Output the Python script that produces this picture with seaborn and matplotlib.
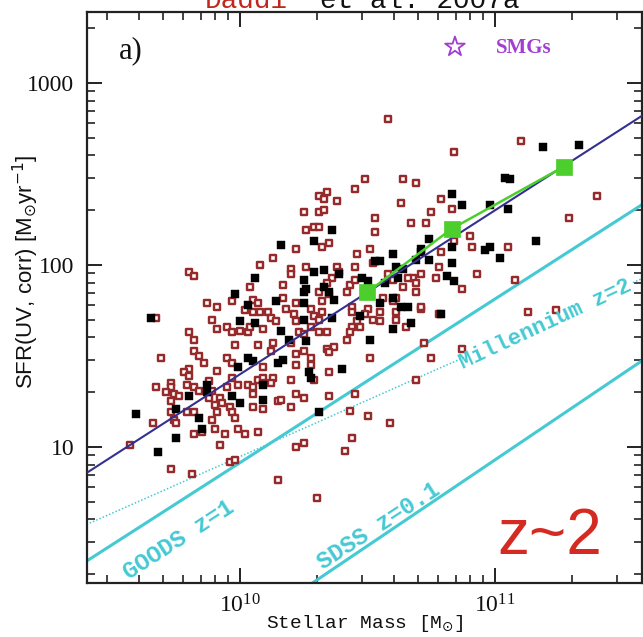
import numpy as np
import pandas as pd
import matplotlib
matplotlib.use("Agg")
import matplotlib.pyplot as plt
import seaborn as sns
from matplotlib.ticker import LogLocator, FuncFormatter, NullFormatter

# ---------------- data (log10 units) ----------------
red_logm = [10.58, 11.10, 10.84, 11.40, 11.29, 10.79, 10.83, 10.90, 10.91, 11.05, 10.79, 10.78, 10.84,
            10.45, 10.49, 10.64, 10.69, 10.63, 10.53, 10.53, 10.67, 10.73, 10.75, 11.08, 10.93, 10.87,
            10.77, 10.71, 11.13, 11.24, 10.51, 10.46, 10.45, 10.56, 10.13, 10.08, 10.04, 9.80, 9.82,
            9.97, 10.05, 10.07, 10.02, 10.05, 10.08, 10.11, 9.87, 9.91, 9.67, 9.89, 9.91, 9.95, 9.97,
            10.00, 10.03, 10.04, 10.09, 9.80, 9.82, 9.98, 10.07, 10.13, 10.12, 9.82, 9.84, 9.86, 9.69,
            9.95, 9.97, 9.91, 9.80, 9.78, 9.80, 10.09, 9.97, 10.07, 10.09, 10.13, 9.67, 9.73, 9.73,
            9.88, 9.79, 9.82, 9.99, 10.03, 10.05, 10.09, 10.12, 9.71, 9.74, 9.76, 9.73, 9.84, 9.89,
            9.88, 9.95, 10.05, 9.92, 9.93, 9.90, 9.91, 9.96, 9.97, 10.05, 10.09, 10.15, 9.57, 9.79,
            9.82, 9.73, 9.74, 9.89, 9.98, 9.66, 9.75, 9.90, 9.99, 9.82, 9.85, 9.94, 10.02, 10.07,
            9.92, 9.96, 9.98, 9.73, 9.81, 10.15, 10.17, 10.22, 10.18, 10.31, 10.32, 10.42, 10.28,
            10.32, 10.29, 10.31, 10.21, 10.22, 10.12, 10.14, 10.44, 10.44, 10.50, 10.49, 10.52,
            10.46, 10.47, 10.55, 10.61, 10.61, 10.71, 10.65, 10.78, 10.23, 10.25, 10.28, 10.31,
            10.34, 10.44, 10.43, 10.42, 10.20, 10.25, 10.34, 10.37, 10.35, 10.22, 10.28, 10.28,
            10.22, 10.51, 10.72, 10.75, 10.35, 10.20, 10.29, 10.69, 10.22, 10.25, 10.35, 10.45,
            10.16, 10.20, 10.43, 10.50, 10.59, 10.44, 10.22, 10.25, 10.41, 10.30, 10.34, 10.31,
            10.33, 10.38, 10.25, 10.31, 10.33, 10.26, 10.29, 10.31, 10.22, 10.32, 10.35, 10.20,
            10.20, 10.26, 10.38, 10.39, 10.36, 10.17, 10.68, 10.71, 10.69, 10.69, 10.64, 10.35,
            10.43, 10.34, 10.45, 10.52, 10.58, 10.60, 10.66, 10.87, 10.61, 10.60, 10.55]
red_logsfr = [2.80, 2.68, 2.62, 2.38, 2.26, 2.36, 2.31, 2.16, 2.10, 2.10, 2.07, 1.99, 2.13,
              2.42, 2.47, 2.47, 2.45, 2.34, 2.26, 2.18, 2.23, 2.23, 2.29, 1.92, 1.95, 1.87,
              1.93, 1.76, 1.74, 1.75, 2.09, 2.06, 1.99, 1.82, 2.04, 2.00, 1.88, 1.96, 1.94,
              1.80, 1.81, 1.79, 1.75, 1.74, 1.74, 1.74, 1.79, 1.77, 1.71, 1.70, 1.65, 1.66, 1.63,
              1.64, 1.63, 1.66, 1.65, 1.63, 1.59, 1.56, 1.56, 1.57, 1.53, 1.53, 1.50, 1.46, 1.49,
              1.49, 1.46, 1.42, 1.43, 1.41, 1.39, 1.44, 1.38, 1.37, 1.38, 1.38, 1.33, 1.35, 1.33,
              1.36, 1.34, 1.33, 1.34, 1.34, 1.33, 1.35, 1.35, 1.30, 1.29, 1.28, 1.25, 1.31, 1.31,
              1.27, 1.33, 1.29, 1.27, 1.24, 1.23, 1.19, 1.22, 1.19, 1.22, 1.21, 1.25, 1.01, 1.19,
              1.19, 1.19, 1.15, 1.15, 1.16, 1.13, 1.13, 1.10, 1.10, 1.07, 1.08, 1.07, 1.07, 1.08,
              1.01, 0.92, 0.93, 0.88, 0.85, 0.82, 1.82, 1.79, 1.76, 1.85, 1.80, 1.85, 1.76,
              1.74, 1.72, 1.70, 1.73, 1.69, 1.71, 1.69, 1.77, 1.74, 1.76, 1.73, 1.70,
              1.69, 1.66, 1.69, 1.74, 1.70, 1.77, 1.66, 1.73, 1.63, 1.62, 1.66, 1.63,
              1.63, 1.66, 1.63, 1.59, 1.57, 1.53, 1.54, 1.55, 1.52, 1.51, 1.49, 1.45,
              1.45, 1.49, 1.57, 1.49, 1.41, 1.37, 1.37, 1.37, 1.29, 1.27, 1.28, 1.29,
              1.26, 1.22, 1.20, 1.17, 1.13, 1.05, 1.00, 1.02, 0.98, 0.72, 2.40, 2.38,
              2.36, 2.35, 2.29, 2.29, 2.30, 2.19, 2.21, 2.21, 2.09, 2.10, 2.12, 1.98,
              1.95, 1.99, 1.99, 1.96, 1.93, 1.89, 1.93, 1.95, 1.90, 1.85, 1.88, 1.84,
              1.89, 1.90, 1.92, 2.01, 1.95, 1.92, 1.93, 1.54, 1.82, 1.80, 1.74]

blk_logm = [11.19, 11.33, 11.04, 11.06, 10.83, 10.87, 10.98, 11.05, 11.16, 10.96, 10.98, 11.02,
            10.83, 10.83, 10.74, 10.71, 10.81, 10.84, 10.79, 10.51, 10.60, 10.53, 10.48, 10.60,
            10.63, 10.66, 10.60, 10.67, 10.06, 9.98, 10.03, 10.14, 9.65, 10.00, 10.06, 10.03,
            10.05, 9.99, 10.15, 9.87, 9.80, 9.87, 9.97, 10.00, 10.09, 10.09, 9.59, 9.75, 9.84,
            9.85, 9.75, 9.68, 10.25, 10.25, 10.35, 10.37, 10.25, 10.36, 10.47, 10.16, 10.19,
            10.26, 10.40, 10.27, 10.28, 10.17, 10.31, 10.36, 10.16, 10.29, 10.55, 10.29, 10.33,
            10.25, 10.26, 10.61, 10.69, 10.71, 10.33, 10.39, 10.50, 10.64, 10.62, 10.57, 10.74,
            10.55]
blk_logsfr = [2.65, 2.66, 2.48, 2.47, 2.39, 2.33, 2.33, 2.31, 2.13, 2.08, 2.10, 2.04,
              2.10, 2.01, 2.14, 2.09, 1.94, 1.91, 1.73, 1.59, 2.06, 2.02, 1.93, 1.82,
              1.77, 1.77, 1.65, 1.68, 1.93, 1.84, 1.78, 1.80, 1.71, 1.69, 1.68, 1.49,
              1.47, 1.44, 1.46, 1.34, 1.28, 1.30, 1.28, 1.24, 1.34, 1.26, 1.18, 1.21, 1.16,
              1.10, 1.05, 0.97, 1.79, 1.85, 1.85, 1.81, 1.70, 1.71, 1.72, 1.64, 1.59,
              1.58, 1.43, 1.41, 1.38, 1.48, 1.19, 2.19, 2.11, 2.13, 2.02, 1.96, 1.97,
              1.92, 1.87, 1.99, 2.03, 2.07, 1.88, 1.95, 1.91, 1.98, 1.93, 1.90, 2.03,
              1.79]

# binned medians (green)
green_mass = [3.16e10, 6.76e10, 1.86e11]
green_sfr = [71.0, 158.0, 347.0]

# relations (end points)
fit_mass = [2.5e9, 3.8e11]
fit_sfr = [7.2, 665.0]
goods_mass = [2.5e9, 3.8e11]
goods_sfr = [2.36, 216.0]
sdss_mass = [1.9e10, 3.8e11]
sdss_sfr = [1.77, 30.0]
mill_mass_a = [2.5e9, 7.76e10]
mill_sfr_a = [3.75, 31.6]
mill_mass_b = [3.47e11, 3.8e11]
mill_sfr_b = [80.0, 84.5]

RED = "#962a2a"
NAVY = "#34308f"
CYAN = "#45c9d3"
GREEN = "#4ccf2c"
PURPLE = "#a23fd0"

sns.set_style("ticks")
plt.rcParams["font.family"] = ["Liberation Serif", "DejaVu Sans"]

fig = plt.figure(figsize=(6.43, 6.37), dpi=100)
ax = fig.add_axes([0.1353, 0.0848, 0.8631, 0.8964])
ax.set_xscale("log")
ax.set_yscale("log")

df_red = pd.DataFrame({"mass": 10 ** np.array(red_logm), "sfr": 10 ** np.array(red_logsfr)})
df_blk = pd.DataFrame({"mass": 10 ** np.array(blk_logm), "sfr": 10 ** np.array(blk_logsfr)})

sns.scatterplot(data=df_red, x="mass", y="sfr", marker="s", s=25, color="white",
                edgecolor=RED, linewidth=1.75, ax=ax, zorder=3, legend=False)
sns.scatterplot(data=df_blk, x="mass", y="sfr", marker="s", s=38, color="black",
                edgecolor="black", linewidth=0.3, ax=ax, zorder=3, legend=False)

sns.lineplot(x=fit_mass, y=fit_sfr, color=NAVY, lw=1.5, ax=ax, sort=False, estimator=None, zorder=4)
sns.lineplot(x=goods_mass, y=goods_sfr, color=CYAN, lw=2.2, ax=ax, sort=False, estimator=None, zorder=2)
sns.lineplot(x=sdss_mass, y=sdss_sfr, color=CYAN, lw=2.2, ax=ax, sort=False, estimator=None, zorder=2)
sns.lineplot(x=mill_mass_a, y=mill_sfr_a, color=CYAN, lw=1.1, ls=(0, (1, 1.3)), ax=ax,
             sort=False, estimator=None, zorder=2)
sns.lineplot(x=mill_mass_b, y=mill_sfr_b, color=CYAN, lw=1.1, ls=(0, (1, 1.3)), ax=ax,
             sort=False, estimator=None, zorder=2)
sns.lineplot(x=green_mass, y=green_sfr, color=GREEN, lw=1.8, ax=ax, sort=False, estimator=None, zorder=5)
sns.scatterplot(x=green_mass, y=green_sfr, marker="s", s=120, color=GREEN, edgecolor=GREEN,
                linewidth=0.5, ax=ax, zorder=6, legend=False)

ax.set_xlim(2.51e9, 3.77e11)
ax.set_ylim(1.79, 2455)

ax.xaxis.set_major_locator(LogLocator(base=10, numticks=20))
ax.xaxis.set_minor_locator(LogLocator(base=10, subs=np.arange(2, 10), numticks=100))
ax.yaxis.set_major_locator(LogLocator(base=10, numticks=20))
ax.yaxis.set_minor_locator(LogLocator(base=10, subs=np.arange(2, 10), numticks=100))
ax.xaxis.set_major_formatter(FuncFormatter(lambda v, p: r"$\mathdefault{10^{%d}}$" % round(np.log10(v))))
ax.yaxis.set_major_formatter(FuncFormatter(lambda v, p: "%d" % round(v)))
ax.xaxis.set_minor_formatter(NullFormatter())
ax.yaxis.set_minor_formatter(NullFormatter())

ax.tick_params(which="both", direction="in", top=True, right=True, colors="#222222",
               labelcolor="#111111", labelfontfamily="Liberation Serif")
ax.tick_params(which="major", length=11, width=1.4, labelsize=17)
ax.tick_params(axis="x", which="major", pad=8)
ax.tick_params(axis="y", which="major", pad=9)
ax.tick_params(which="minor", length=5.5, width=1.2)
for sp in ax.spines.values():
    sp.set_linewidth(1.6)
    sp.set_color("#222222")

ax.set_xlabel(r"Stellar Mass [M$_{\odot}$]", fontfamily="Liberation Mono", fontsize=14,
              color="#111111", va="top")
ax.xaxis.set_label_coords(0.5, -0.052)
ax.set_ylabel(r"SFR(UV, corr) [M$_{\odot}$yr$^{-1}$]", fontfamily="Liberation Sans",
              fontsize=16, color="#111111")
ax.yaxis.set_label_coords(-0.083, 0.545)

# annotations
ax.text(0.079, 0.933, "a)", transform=ax.transAxes, fontsize=22, ha="center", va="center",
        fontfamily="Liberation Serif", color="#111111")
ax.scatter([0.663], [0.939], transform=ax.transAxes, marker="*", s=220, facecolor="none",
           edgecolor=PURPLE, linewidth=1.3, zorder=6)
ax.text(0.737, 0.937, "SMGs", transform=ax.transAxes, fontsize=15, ha="left", va="center",
        fontfamily="Liberation Serif", fontweight="bold", color=PURPLE)
ax.text(0.834, 0.080, "z~2", transform=ax.transAxes, fontsize=46, ha="center", va="center",
        fontfamily="Liberation Sans", color="#d42a22")
ax.text(0.165, 0.075, "GOODS z=1", transform=ax.transAxes, fontsize=17, ha="center", va="center",
        rotation=33, rotation_mode="anchor", fontfamily="Liberation Mono", fontweight="bold", color=CYAN)
ax.text(0.525, 0.100, "SDSS z=0.1", transform=ax.transAxes, fontsize=17, ha="center", va="center",
        rotation=33, rotation_mode="anchor", fontfamily="Liberation Mono", fontweight="bold", color=CYAN)
ax.text(0.826, 0.452, "Millennium z=2", transform=ax.transAxes, fontsize=16, ha="center", va="center",
        rotation=25, rotation_mode="anchor", fontfamily="Liberation Mono", fontweight="bold", color=CYAN)

# truncated title at the very top of the cropped figure (cut off as in the original)
fig.text(205 / 643, 1 - 8 / 637, "Daddi", fontsize=20, fontfamily="Liberation Mono",
         color="#c0281e", ha="left", va="baseline")
fig.text(320 / 643, 1 - 8 / 637, "et al. 2007a", fontsize=20, fontfamily="Liberation Mono",
         color="#111111", ha="left", va="baseline")

fig.savefig("out.png", dpi=100)
